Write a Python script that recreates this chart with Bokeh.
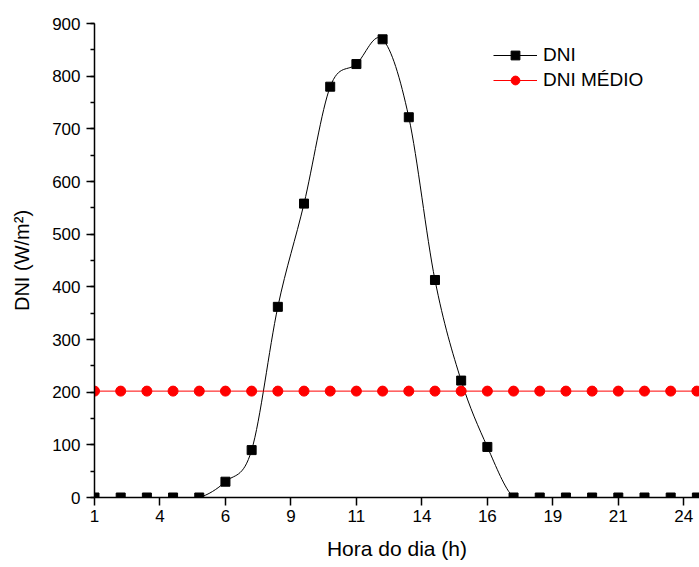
import numpy as np
from bokeh.plotting import figure
from bokeh.models import (Range1d, FixedTicker, SingleIntervalTicker, Legend, LegendItem,
                          ColumnDataSource)
from bokeh.embed import file_html
from bokeh.resources import INLINE

# ---- data ----
hours = [1, 2, 3, 4, 5, 6, 7, 8, 9, 10, 11, 12, 13, 14, 15, 16, 17, 18, 19, 20, 21, 22, 23, 24]
dni = [0, 0, 0, 0, 0, 30, 90, 362, 558, 780, 823, 870, 722, 413, 222, 96, 0, 0, 0, 0, 0, 0, 0, 0]
dni_medio = [202] * 24
x_tick_values = [1, 3.5, 6, 8.5, 11, 13.5, 16, 18.5, 21, 23.5]
x_tick_labels = ["1", "4", "6", "9", "11", "14", "16", "19", "21", "24"]

FONT = "Liberation Sans"

p = figure(width=699, height=567, output_backend="svg", toolbar_location=None,
           x_range=Range1d(1, 24.1), y_range=Range1d(0, 900),
           min_border_left=94, min_border_right=0, min_border_top=23, min_border_bottom=70)
p.outline_line_color = None
p.grid.visible = False
p.background_fill_color = "white"
p.border_fill_color = "white"

# smooth connection (Catmull-Rom as cubic Bezier segments through data points)
xa = np.array(hours, dtype=float)
ya = np.array(dni, dtype=float)
n = len(xa)
x0, y0 = xa[:-1], ya[:-1]
x1, y1 = xa[1:], ya[1:]
xp = np.concatenate([[xa[0]], xa[:-2]])
yp = np.concatenate([[ya[0]], ya[:-2]])
xn = np.concatenate([xa[2:], [xa[-1]]])
yn = np.concatenate([ya[2:], [ya[-1]]])
cx0 = x0 + (x1 - xp) / 6.0
cy0 = y0 + (y1 - yp) / 6.0
cx1 = x1 - (xn - x0) / 6.0
cy1 = y1 - (yn - y0) / 6.0
bsrc = ColumnDataSource(dict(x0=x0, y0=y0, x1=x1, y1=y1, cx0=cx0, cy0=cy0, cx1=cx1, cy1=cy1))
curve = p.bezier(x0="x0", y0="y0", x1="x1", y1="y1", cx0="cx0", cy0="cy0", cx1="cx1", cy1="cy1",
                 source=bsrc, line_color="black", line_width=1)
sq = p.scatter(hours, dni, marker="square", size=9, fill_color="black", line_color="black")

red_line = p.line(hours, dni_medio, line_color="red", line_width=1)
red_pts = p.scatter(hours, dni_medio, marker="circle", size=10, fill_color="red", line_color="red")

# axes
for ax in (p.xaxis[0], p.yaxis[0]):
    ax.axis_line_width = 1.5
    ax.axis_line_color = "black"
    ax.major_tick_line_width = 1.5
    ax.minor_tick_line_width = 1.5
    ax.major_tick_in = 0
    ax.major_tick_out = 8
    ax.minor_tick_in = 0
    ax.minor_tick_out = 4
    ax.major_label_text_font = FONT
    ax.major_label_text_font_size = "17px"
    ax.major_label_text_color = "black"
    ax.axis_label_text_font = FONT
    ax.axis_label_text_font_style = "normal"
    ax.axis_label_text_color = "black"

p.xaxis.ticker = FixedTicker(ticks=x_tick_values, minor_ticks=[])
p.xaxis.major_label_overrides = {float(v): l for v, l in zip(x_tick_values, x_tick_labels)}
p.xaxis.axis_label = "Hora do dia (h)"
p.xaxis.axis_label_text_font_size = "21px"
p.xaxis.axis_label_standoff = 12
p.xaxis.major_label_standoff = 4

p.yaxis.ticker = SingleIntervalTicker(interval=100, num_minor_ticks=2)
p.yaxis.axis_label = "DNI (W/m²)"
p.yaxis.axis_label_text_font_size = "20px"
p.yaxis.axis_label_standoff = 16
p.yaxis.major_label_standoff = 6

legend = Legend(items=[LegendItem(label="DNI", renderers=[curve, sq]),
                       LegendItem(label="DNI MÉDIO", renderers=[red_line, red_pts])],
                location=(399, 405))
legend.border_line_color = None
legend.background_fill_alpha = 0
legend.padding = 0
legend.margin = 0
legend.spacing = 0
legend.glyph_width = 44
legend.glyph_height = 22
legend.label_height = 25
legend.label_standoff = 6
legend.label_text_font = FONT
legend.label_text_font_size = "19px"
legend.label_text_color = "black"
p.add_layout(legend, "center")

open("out.html", "w").write(file_html(p, INLINE))
